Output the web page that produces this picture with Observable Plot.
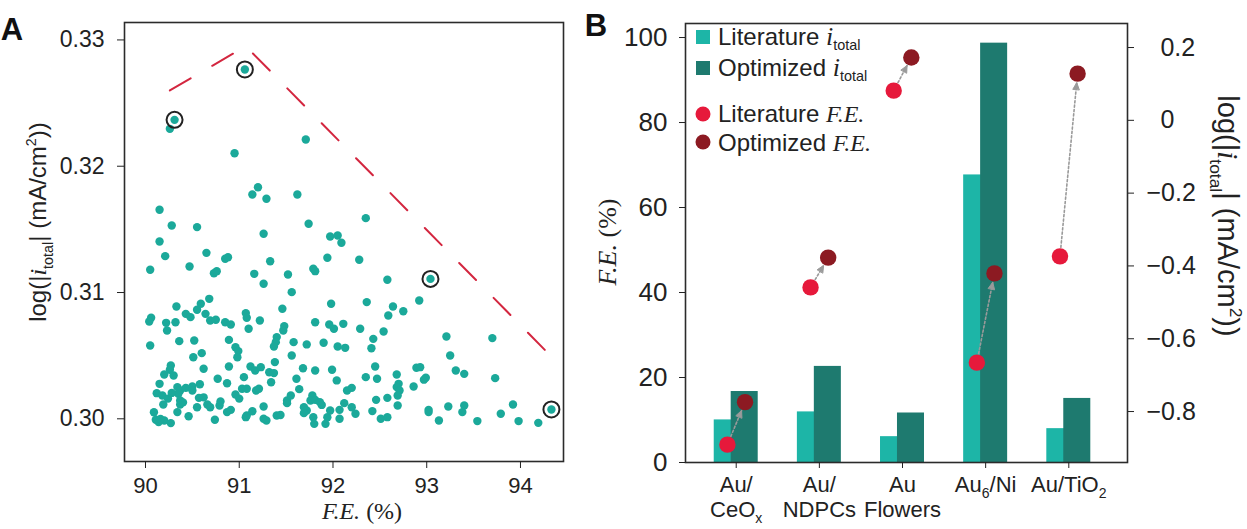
<!DOCTYPE html>
<html><head><meta charset="utf-8">
<script src="https://cdn.jsdelivr.net/npm/d3@7"></script>
<script src="https://cdn.jsdelivr.net/npm/@observablehq/plot@0.6"></script>
<style>
body{margin:0;background:#fff;}
#wrap{position:relative;width:1247px;height:529px;overflow:hidden;background:#fff;}
#a{position:absolute;left:0;top:0;}
#b{position:absolute;left:590px;top:0;}
svg{display:block;}
</style></head><body>
<div id="wrap"><div id="a"></div><div id="b"></div></div>
<script>
// ---------- Panel A data ----------
const feA = [90.26,90.31,91.06,91.71,90.95,91.20,91.14,91.29,91.62,90.15,90.28,90.55,91.74,92.35,91.26,91.97,92.05,92.09,90.15,90.21,90.65,90.85,90.88,90.47,91.33,91.94,92.28,
90.05,90.73,90.76,91.16,91.52,91.79,91.81,91.26,92.58,93.04,91.56,90.68,90.59,90.33,90.55,91.46,91.98,92.36,92.92,92.64,92.75,90.43,90.48,90.64,91.07,91.08,90.06,90.04,90.22,90.32,90.23,90.69,90.75,90.85,90.91,91.22,91.10,91.48,91.47,91.81,91.96,92.01,92.11,92.29,92.59,92.54,92.43,91.40,91.39,91.37,90.05,90.36,90.52,90.89,90.96,90.99,90.98,91.58,91.72,91.90,92.05,92.13,92.41,91.56,90.51,90.60,93.21,93.70,93.25,91.38,90.62,90.89,91.12,91.17,91.23,91.32,91.37,91.81,91.99,92.04,92.45,92.35,92.47,92.89,92.93,92.99,92.97,93.31,93.40,93.73,90.27,90.26,90.20,90.30,90.77,90.87,91.05,91.61,92.68,92.70,92.68,92.71,92.86,90.15,90.34,90.37,90.35,90.43,90.50,90.50,90.12,90.18,90.19,90.37,90.37,90.34,90.57,90.55,90.66,90.69,91.03,91.08,91.18,91.21,90.79,90.87,90.91,91.26,91.07,91.08,91.26,91.29,91.40,91.51,91.55,91.51,91.78,91.76,91.81,91.86,91.69,91.72,91.69,91.79,91.80,91.92,91.94,91.97,92.07,92.07,92.20,92.15,92.20,92.42,92.51,92.58,92.58,92.69,92.69,93.02,93.02,93.13,93.23,93.38,93.40,93.54,93.79,93.92,93.98,94.19,94.33,90.11,90.14,90.20,90.27,90.74,
90.16,90.24,90.40,90.46,90.62,90.80,91.00,91.14,91.44,91.64,91.88,92.24,92.46,90.09,90.28,90.58,90.96,91.34,91.68,92.12];
const logIA = [0.32296,0.32367,0.32766,0.32212,0.32103,0.31834,0.31776,0.31742,0.31776,0.31655,0.31531,0.31518,0.31544,0.31589,0.31465,0.31444,0.31452,0.31394,0.31404,0.31288,0.31314,0.31267,0.31280,0.31206,0.31248,0.31275,0.31259,
0.31180,0.31153,0.31169,0.31148,0.31143,0.31188,0.31169,0.31069,0.31101,0.31108,0.31003,0.30950,0.30911,0.30889,0.30863,0.30871,0.30911,0.30924,0.30937,0.30889,0.30852,0.30831,0.30805,0.30831,0.30837,0.30800,0.30800,0.30771,0.30760,0.30765,0.30699,0.30779,0.30784,0.30765,0.30747,0.30779,0.30713,0.30734,0.30699,0.30765,0.30747,0.30713,0.30752,0.30713,0.30818,0.30691,0.30633,0.30647,0.30607,0.30573,0.30581,0.30615,0.30620,0.30625,0.30567,0.30536,0.30488,0.30607,0.30589,0.30602,0.30573,0.30562,0.30559,0.30501,0.30488,0.30520,0.30652,0.30639,0.30501,0.30449,0.30396,0.30414,0.30414,0.30383,0.30409,0.30369,0.30362,0.30383,0.30388,0.30304,0.30414,0.30330,0.30317,0.30404,0.30409,0.30325,0.30310,0.30383,0.30356,0.30322,0.30422,0.30388,0.30351,0.30343,0.30317,0.30282,0.30330,0.30317,0.30351,0.30277,0.30251,0.30224,0.30256,0.30277,0.30251,0.30224,0.30198,0.30245,0.30256,0.30224,0.30203,0.30185,0.30113,0.30145,0.30113,0.30053,0.30166,0.30092,0.30113,0.30092,0.30238,0.30238,0.30224,0.30238,0.30106,0.30053,0.30071,0.30098,0.30013,0.30026,0.30000,0.29987,0.30026,0.30145,0.30185,0.30124,0.30185,0.30145,0.30150,0.30132,0.30092,0.30066,0.30045,0.30013,0.29960,0.29960,0.30013,0.30066,0.30071,0.30000,0.30092,0.30224,0.30245,0.30061,0.30000,0.30013,0.30166,0.30185,0.30106,0.30071,0.30053,0.29987,0.30098,0.30053,0.30106,0.29982,0.30040,0.30113,0.29982,0.29968,0.30074,0.29992,0.29974,0.29987,0.29966,0.29992,
0.29998,0.30160,0.30130,0.30020,0.30170,0.30138,0.30160,0.30060,0.30030,0.30235,0.30110,0.30040,0.30150,0.30052,0.30205,0.30274,0.30192,0.30290,0.30400,0.30124];
const hlFE = [90.31, 91.06, 93.04, 94.33];
const hlLogI = [0.32367, 0.32766, 0.31108, 0.30074];
const frontFE = [90.26, 91.07, 94.36];
const frontLogI = [0.3260, 0.3295, 0.3047];
const xTicksA = [90, 91, 92, 93, 94];
const yTicksA = [0.30, 0.31, 0.32, 0.33];
const xDomA = [89.776, 94.459];
const yDomA = [0.29662, 0.33138];

// ---------- Panel B data ----------
const catsB = ["Au/\nCeO_x", "Au/\nNDPCs", "Au\nFlowers", "Au_6/Ni", "Au/TiO_2"];
const litLogI = [-0.823, -0.801, -0.869, -0.150, -0.847];
const optLogI = [-0.745, -0.676, -0.804, 0.212, -0.764];
const litFE = [4.2, 41.2, 87.5, 23.5, 48.5];
const optFE = [14.2, 48.2, 95.3, 44.5, 91.5];
const feTicksB = [0, 20, 40, 60, 80, 100];
const logTicksB = [-0.8, -0.6, -0.4, -0.2, 0, 0.2];
const feDomB = [0, 103.3];
const logDomB = [-0.940, 0.266];

// ---------- styles ----------
const SANS = "'Liberation Sans', Arial, sans-serif";
const SERIF = "'Liberation Serif', 'Times New Roman', serif";
const C = {dot:"#1ba99a", front:"#d3263f", litBar:"#1db5a7", optBar:"#1e7a6f", litDot:"#e6193b", optDot:"#8c1a22", arrow:"#9a9a9a", ink:"#222", frame:"#2b2b2b"};

function rich(sel, x, y, rot, anchor, size, parts, family, subShift) {
  const t = sel.append("text")
    .attr("transform", `translate(${x},${y}) rotate(${rot})`)
    .attr("text-anchor", anchor).attr("font-size", size)
    .attr("fill", C.ink).attr("font-family", family || SANS);
  let shift = 0;
  const ss = subShift == null ? 0.28 : subShift;
  for (const p of parts) {
    const ts = t.append("tspan").text(p.t);
    const target = p.sub ? size * ss : p.sup ? -size * 0.4 : 0;
    if (target !== shift) { ts.attr("dy", target - shift); shift = target; }
    if (p.sub || p.sup) ts.attr("font-size", size * 0.6).attr("font-family", SANS);
    if (p.it) ts.attr("font-style", "italic");
    if (p.serif) ts.attr("font-family", SERIF);
    if (p.size) ts.attr("font-size", p.size);
  }
  return t;
}
const logLabel = [{t:"log(|"},{t:"i", it:true, serif:true},{t:"total", sub:true},{t:"| (mA/cm"},{t:"2", sup:true},{t:"))"}];
const feLabel = [{t:"F.E.", it:true},{t:" (%)"}];

// ---------- Panel A ----------
const ptsA = feA.map((x, i) => ({x, y: logIA[i]}));
const hlA = hlFE.map((x, i) => ({x, y: hlLogI[i]}));
const frontA = frontFE.map((x, i) => ({x, y: frontLogI[i]}));

const chartA = Plot.plot({
  width: 590, height: 529,
  marginLeft: 124, marginRight: 27, marginTop: 22, marginBottom: 68,
  x: {domain: xDomA},
  y: {domain: yDomA},
  style: {fontFamily: SANS, fontSize: "22px", color: C.ink, background: "white", overflow: "visible"},
  marks: [
    Plot.line(frontA, {x: "x", y: "y", stroke: C.front, strokeWidth: 2, strokeDasharray: "24,25"}),
    Plot.dot(ptsA, {x: "x", y: "y", r: 4.2, fill: C.dot}),
    Plot.dot(hlA, {x: "x", y: "y", r: 8, stroke: C.ink, strokeWidth: 2, fill: "none"}),
    Plot.frame({stroke: C.frame, strokeWidth: 1.6}),
    Plot.axisX(xTicksA, {tickSize: 7, tickPadding: 9, fontSize: 22, label: null}),
    Plot.axisY(yTicksA, {tickSize: 7, tickPadding: 13, fontSize: 23, tickFormat: d3.format(".2f"), label: null})
  ]
});
document.getElementById("a").appendChild(chartA);
const sa = d3.select(chartA);
sa.append("text").attr("x", 12).attr("y", 40).attr("font-size", 31).attr("font-weight", "bold")
  .attr("font-family", SANS).attr("fill", "#111").text("A");
rich(sa, 46, 222, -90, "middle", 24, logLabel);
rich(sa, 362, 519, 0, "middle", 24, feLabel, SERIF);

// ---------- Panel B ----------
const r2l = d3.scaleLinear().domain(logDomB).range(feDomB);
const rowsB = catsB.map((c, i) => ({i, lit: litLogI[i], opt: optLogI[i], litFE: litFE[i], optFE: optFE[i]}));
const bw = 0.325, bShift = 0.102, dShift = 0.106;
const fmtLog = v => {
  const r = Math.round(v * 10) / 10;
  if (Math.abs(r) < 1e-9) return "\u20070";
  return r < 0 ? "\u2212" + Math.abs(r).toFixed(1) : "\u2007" + r.toFixed(1);
};

const chartB = Plot.plot({
  width: 657, height: 529,
  marginLeft: 95, marginRight: 120, marginTop: 23, marginBottom: 67,
  x: {type: "linear", domain: [-0.61, 4.706]},
  y: {domain: feDomB},
  style: {fontFamily: SANS, fontSize: "22px", color: C.ink, background: "white", overflow: "visible"},
  marks: [
    Plot.rect(rowsB, {x1: d => d.i - bShift - bw / 2, x2: d => d.i - bShift + bw / 2, y1: 0, y2: d => r2l(d.lit), fill: C.litBar}),
    Plot.rect(rowsB, {x1: d => d.i + bShift - bw / 2, x2: d => d.i + bShift + bw / 2, y1: 0, y2: d => r2l(d.opt), fill: C.optBar}),
    Plot.arrow(rowsB, {x1: d => d.i - dShift, y1: "litFE", x2: d => d.i + dShift, y2: "optFE",
      stroke: C.arrow, strokeWidth: 1.6, strokeDasharray: "2.2,2.2", headLength: 7, headAngle: 50, insetStart: 9, insetEnd: 9}),
    Plot.dot(rowsB, {x: d => d.i - dShift, y: "litFE", r: 8.2, fill: C.litDot}),
    Plot.dot(rowsB, {x: d => d.i + dShift, y: "optFE", r: 8.2, fill: C.optDot}),
    Plot.frame({stroke: C.frame, strokeWidth: 1.6}),
    Plot.axisX(catsB.map((c, i) => i), {tickSize: 6, tickPadding: 6, fontSize: 22, lineHeight: 1.12, tickFormat: i => catsB[i], label: null}),
    Plot.axisY(feTicksB, {anchor: "left", tickSize: 6, tickPadding: 12, fontSize: 26, label: null}),
    Plot.axisY(logTicksB.map(v => r2l(v)), {anchor: "right", tickSize: 6, tickPadding: 13, fontSize: 25, tickFormat: d => fmtLog(r2l.invert(d)), label: null})
  ]
});
document.getElementById("b").appendChild(chartB);
const sb = d3.select(chartB);

// arrow heads: solid filled triangles, dotted shafts
chartB.querySelectorAll('g[aria-label="arrow"] path').forEach(p => {
  const parts = p.getAttribute("d").split(/(?=M)/);
  if (parts.length < 2) return;
  p.setAttribute("d", parts[0]);
  const h = p.cloneNode();
  h.setAttribute("d", parts.slice(1).join("") + "Z");
  h.setAttribute("stroke-dasharray", "none");
  h.setAttribute("fill", C.arrow);
  h.setAttribute("stroke-width", 1);
  p.parentNode.appendChild(h);
});

// subscripts in category tick labels (marked with "_")
function subify(svg) {
  svg.querySelectorAll("text, tspan").forEach(el => {
    if (el.children.length) return;
    const s = el.textContent;
    if (!s.includes("_")) return;
    const bits = s.split(/_(\w)/);
    el.textContent = "";
    let down = false;
    bits.forEach((b, k) => {
      if (!b) return;
      const ts = document.createElementNS("http://www.w3.org/2000/svg", "tspan");
      ts.textContent = b;
      if (k % 2 === 1) { ts.setAttribute("dy", 6); ts.setAttribute("font-size", 14); down = true; }
      else if (down) { ts.setAttribute("dy", -6); down = false; }
      el.appendChild(ts);
    });
  });
}
subify(chartB);

sb.append("text").attr("x", 6).attr("y", 36).attr("font-size", 31).attr("font-weight", "bold")
  .attr("font-family", SANS).attr("fill", "#111").text("B");
rich(sb, 26, 242, -90, "middle", 26, feLabel, SERIF);
rich(sb, 628, 216, 90, "middle", 29, logLabel);

// legend
const lg = sb.append("g");
lg.append("rect").attr("x", 106).attr("y", 30).attr("width", 14).attr("height", 14).attr("fill", C.litBar);
lg.append("rect").attr("x", 106).attr("y", 61).attr("width", 14).attr("height", 14).attr("fill", C.optBar);
lg.append("circle").attr("cx", 113).attr("cy", 114).attr("r", 7.5).attr("fill", C.litDot);
lg.append("circle").attr("cx", 113).attr("cy", 142).attr("r", 7.5).attr("fill", C.optDot);
rich(lg, 128, 45, 0, "start", 24, [{t:"Literature "},{t:"i", it:true, serif:true, size:26},{t:"total", sub:true}], null, 0.2);
rich(lg, 128, 76, 0, "start", 24, [{t:"Optimized "},{t:"i", it:true, serif:true, size:26},{t:"total", sub:true}], null, 0.2);
rich(lg, 128, 122, 0, "start", 24, [{t:"Literature "},{t:"F.E.", it:true, serif:true}]);
rich(lg, 128, 151, 0, "start", 24, [{t:"Optimized "},{t:"F.E.", it:true, serif:true}]);
</script>
</body></html>
